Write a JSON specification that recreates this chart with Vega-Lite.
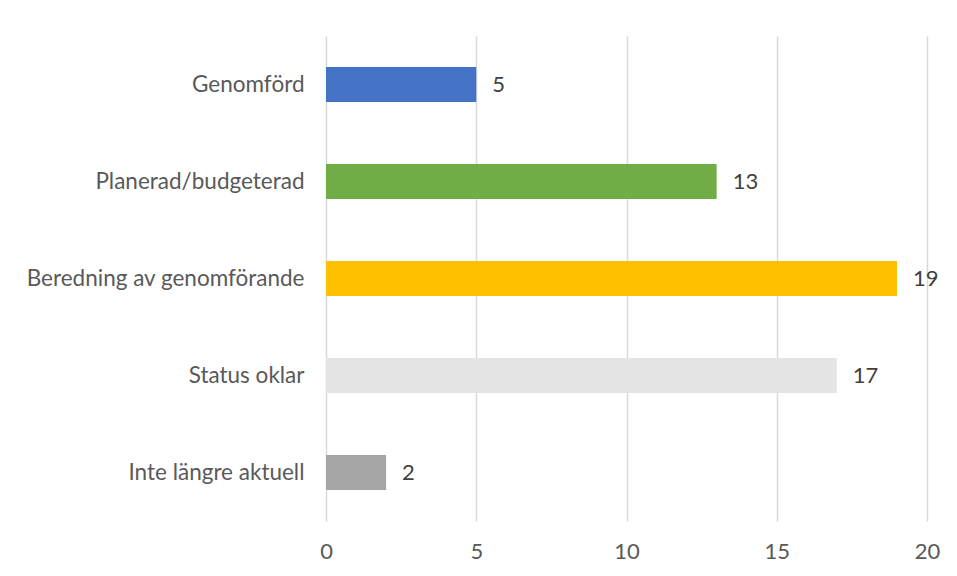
{
  "$schema": "https://vega.github.io/schema/vega-lite/v6.json",
  "width": 601,
  "height": 485,
  "autosize": {"type": "none"},
  "padding": {"left": 326, "top": 36, "right": 30, "bottom": 55},
  "background": "white",
  "config": {
    "view": {"stroke": null},
    "font": "Lato"
  },
  "data": {
    "values": [
      {"status": "Genomförd", "antal": 5, "color": "#4472C4"},
      {"status": "Planerad/budgeterad", "antal": 13, "color": "#70AD47"},
      {"status": "Beredning av genomförande", "antal": 19, "color": "#FFC000"},
      {"status": "Status oklar", "antal": 17, "color": "#E4E4E4"},
      {"status": "Inte längre aktuell", "antal": 2, "color": "#A5A5A5"}
    ]
  },
  "encoding": {
    "y": {
      "field": "status",
      "type": "nominal",
      "sort": null,
      "scale": {"paddingInner": 0.64, "paddingOuter": 0.32},
      "axis": {
        "title": null,
        "domain": false,
        "ticks": false,
        "labelFontSize": 22.5,
        "labelColor": "#595959",
        "labelPadding": 22,
        "labelLimit": 400
      }
    },
    "x": {
      "field": "antal",
      "type": "quantitative",
      "scale": {"domain": [0, 20], "nice": false},
      "axis": {
        "title": null,
        "values": [0, 5, 10, 15, 20],
        "domain": false,
        "ticks": false,
        "grid": true,
        "gridColor": "#D9D9D9",
        "gridWidth": 1.5,
        "labelFontSize": 22,
        "labelColor": "#595959",
        "labelPadding": 20,
        "labelFlush": false
      }
    }
  },
  "layer": [
    {
      "mark": {"type": "bar"},
      "encoding": {
        "color": {"field": "color", "type": "nominal", "scale": null}
      }
    },
    {
      "mark": {"type": "text", "align": "left", "baseline": "middle", "dx": 16, "fontSize": 22, "color": "#404040"},
      "encoding": {
        "text": {"field": "antal", "type": "quantitative"}
      }
    }
  ]
}
